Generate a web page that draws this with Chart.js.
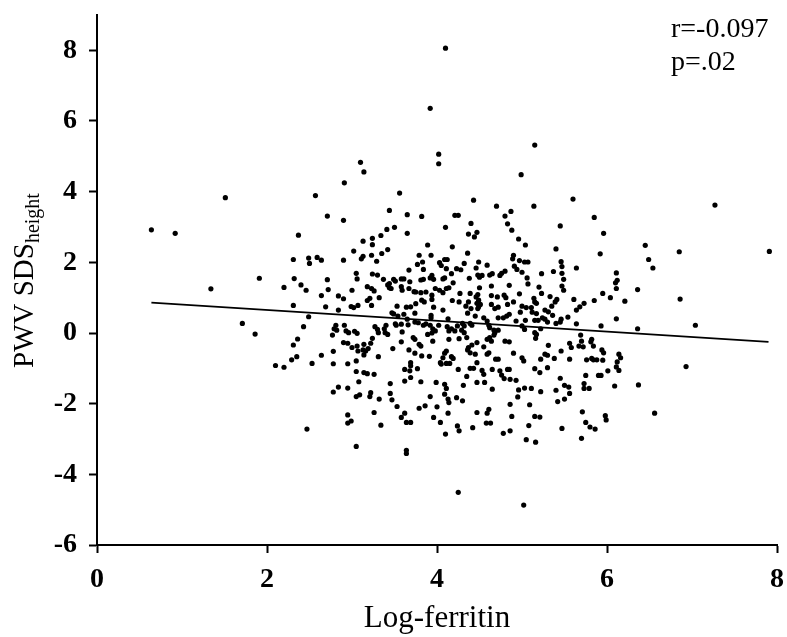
<!DOCTYPE html>
<html>
<head>
<meta charset="utf-8">
<script src="https://cdn.jsdelivr.net/npm/chart.js@4"></script>
<style>
  html, body { margin: 0; padding: 0; background: #fff; }
  #wrap { position: relative; width: 787px; height: 637px; }
</style>
</head>
<body>
<div id="wrap"><canvas id="c" width="787" height="637"></canvas></div>
<script>
// Log-ferritin (x) and PWV SDS-height (y), one entry per participant
const logFerritin = [
  1.51,0.64,0.92,2.37,2.31,1.91,2.32,2.20,2.40,1.34,2.31,1.71,1.86,2.36,2.31,2.29,2.35,2.10,2.20,2.43,2.47,
  4.10,3.92,5.15,4.02,4.02,3.10,3.14,4.99,2.91,2.57,3.56,4.43,5.60,7.27,4.70,5.14,2.71,2.90,3.44,3.65,3.82,4.21,4.25,4.80,4.87,5.85,4.40,4.83,4.88,5.45,5.96,4.10,3.50,3.41,3.65,3.34,3.24,3.13,4.37,4.44,4.47,4.96,
  3.24,3.42,3.02,3.35,3.89,4.18,3.13,3.11,3.23,3.29,2.90,2.49,2.59,2.64,2.50,3.79,3.93,3.83,3.77,4.03,4.05,4.09,4.12,3.84,3.67,4.11,4.23,3.05,3.24,3.30,3.06,2.71,3.37,3.49,3.51,3.58,3.61,3.68,3.44,3.81,3.84,3.94,3.92,3.96,4.07,4.09,4.17,4.19,
  2.46,2.72,3.18,3.23,3.26,3.00,3.42,3.44,3.46,3.58,3.59,3.67,3.73,3.75,3.81,3.87,3.94,3.98,4.03,4.11,4.14,4.07,4.18,2.64,2.84,2.90,3.21,3.18,3.32,3.07,2.99,3.02,3.23,2.69,2.84,3.53,3.64,3.69,3.75,3.82,3.85,3.94,3.96,4.07,
  3.47,3.49,3.61,3.54,3.74,3.93,3.93,4.13,2.49,2.81,2.79,2.82,2.77,2.91,2.93,2.96,3.03,3.06,3.27,3.30,3.31,3.40,3.38,3.51,3.52,3.58,3.65,3.66,3.74,3.78,3.84,3.87,3.92,3.95,3.98,3.89,4.02,4.12,4.14,4.17,4.21,4.24,
  5.04,5.40,5.92,4.36,4.90,4.89,4.97,5.03,5.07,5.46,5.47,4.49,4.32,4.59,4.28,4.46,4.91,4.94,5.64,5.00,5.37,5.47,5.23,4.48,4.53,4.50,4.62,4.65,4.74,4.76,4.80,5.06,5.49,4.38,6.12,6.10,5.07,4.50,4.64,4.85,5.20,5.47,5.49,6.11,
  4.27,4.39,4.48,4.46,4.64,4.71,4.79,4.81,4.97,5.23,5.14,5.15,5.33,5.41,5.39,5.95,6.04,5.61,5.85,5.73,5.68,5.64,4.26,4.37,4.49,4.47,4.51,4.49,4.48,4.34,4.40,4.36,4.45,4.64,4.72,4.68,4.83,4.90,5.00,5.05,5.11,5.17,5.35,5.27,5.31,
  4.98,5.12,5.17,5.36,4.72,4.78,4.82,4.85,4.55,4.59,4.93,5.04,5.15,5.19,5.24,5.27,5.30,5.46,5.45,5.54,5.40,5.64,5.93,6.11,4.30,4.32,4.29,4.32,4.39,4.41,4.61,4.62,4.67,4.68,4.72,5.00,5.03,5.15,5.22,5.69,
  6.45,6.85,7.91,6.49,6.54,6.11,6.36,6.21,6.86,6.36,7.04,
  2.90,2.95,3.06,3.00,3.14,3.22,3.24,3.07,3.13,3.16,3.19,3.14,2.78,2.64,2.78,2.53,2.95,3.05,3.31,3.48,3.58,3.72,3.74,3.79,3.81,3.67,3.74,3.82,3.91,3.95,4.14,4.11,4.09,4.07,4.17,4.19,4.04,4.05,4.11,4.15,4.25,
  3.69,3.69,3.68,3.77,3.62,3.69,3.62,3.81,3.99,3.05,3.14,3.18,3.26,3.08,2.95,2.84,2.78,3.45,3.45,3.47,3.22,3.21,3.05,3.09,3.32,3.53,3.26,2.95,2.99,2.95,3.62,3.58,3.64,3.69,3.34,3.79,3.86,3.92,4.00,4.09,4.11,4.09,4.13,4.14,4.23,3.96,4.04,4.13,3.39,3.42,3.59,3.94,4.26,
  4.67,4.35,5.17,5.16,5.70,5.67,5.72,5.82,5.81,5.84,5.94,5.96,5.56,5.58,5.46,5.31,4.59,4.62,4.64,4.80,4.85,4.47,4.41,4.37,4.36,4.39,4.45,4.55,4.61,4.59,4.90,5.00,5.02,4.69,4.72,5.27,5.30,5.22,5.38,5.56,5.76,5.82,5.84,5.88,5.95,6.12,
  4.47,4.39,4.43,4.53,4.55,4.65,4.74,4.76,4.83,4.85,5.15,5.21,5.30,4.79,4.86,4.93,4.35,4.47,4.56,4.31,4.65,4.96,5.03,5.11,5.22,4.95,5.45,5.50,5.55,5.40,5.56,5.73,5.73,5.79,5.75,5.90,5.93,6.01,6.11,6.14,6.09,
  4.30,4.86,5.09,5.42,5.50,4.61,4.59,4.47,5.71,4.88,5.15,5.21,5.98,5.99,4.63,5.08,
  6.14,6.16,6.93,6.37,6.56,
  3.05,3.64,3.64,4.10,4.24,4.26,4.25,
  4.42,4.58,4.78,4.86,5.05,5.16,5.47,5.70,5.75,5.80,5.86,5.02
];
const pwvSds = [
  3.83,2.92,2.82,2.77,2.08,1.55,1.54,1.29,1.36,1.25,0.78,0.27,-0.03,-0.17,-0.34,-0.76,-0.67,-0.92,-0.97,0.18,-2.72,
  8.06,6.36,5.32,5.06,4.79,4.83,4.56,4.48,4.25,3.89,3.96,3.76,3.79,3.62,3.59,3.59,3.31,3.19,3.47,3.35,3.30,3.33,3.33,3.31,3.44,3.27,3.10,3.09,2.91,3.03,2.82,2.99,2.99,2.93,2.82,2.76,2.68,2.60,2.80,2.72,2.85,2.66,
  2.50,2.36,2.32,2.25,2.49,2.44,2.17,2.10,2.20,2.03,2.06,2.12,2.14,2.06,1.97,2.20,2.20,2.01,1.94,1.99,1.91,2.08,2.08,1.80,1.78,1.82,1.82,1.69,1.67,1.64,1.53,1.51,1.52,1.52,1.47,1.53,1.53,1.45,1.40,1.50,1.52,1.63,1.56,1.52,1.53,1.56,1.68,1.42,
  1.21,1.23,1.31,1.26,1.19,1.21,1.36,1.28,1.26,1.31,1.21,1.26,1.17,1.16,1.14,1.16,1.07,1.26,1.21,1.26,1.28,1.14,0.92,1.06,1.05,0.97,0.98,0.92,1.00,0.78,0.75,0.72,0.78,0.74,0.65,0.76,0.73,0.74,0.83,0.93,0.88,0.95,0.73,0.65,
  0.57,0.54,0.53,0.48,0.56,0.50,0.43,0.40,0.46,0.22,0.12,0.08,-0.06,0.22,0.06,0.01,0.05,-0.01,0.18,0.10,0.01,0.22,0.12,0.26,0.22,0.25,0.39,0.23,0.31,0.29,0.22,0.26,0.22,0.12,0.06,-0.04,0.22,0.18,0.06,0.12,0.06,0.20,
  2.49,2.38,2.24,2.26,2.20,2.10,2.05,2.01,2.01,2.02,1.88,2.01,1.97,1.92,1.79,1.84,1.89,1.80,1.84,1.72,1.74,1.69,1.68,1.64,1.63,1.58,1.64,1.68,1.63,1.69,1.75,1.56,1.52,1.55,1.49,1.42,1.39,1.28,1.33,1.35,1.30,1.33,1.21,1.26,
  1.12,1.12,1.09,1.02,1.06,1.02,1.07,1.00,1.11,1.12,0.98,0.88,1.03,0.95,0.88,1.12,1.00,0.95,0.92,0.84,0.74,0.65,0.88,0.88,0.93,0.84,0.81,0.74,0.69,0.76,0.69,0.56,0.48,0.81,0.73,0.69,0.81,0.88,0.76,0.72,0.72,0.84,0.76,0.65,0.60,
  0.59,0.59,0.55,0.50,0.43,0.43,0.48,0.53,0.43,0.34,0.34,0.36,0.36,0.36,0.43,0.39,0.31,0.39,0.31,0.45,0.27,0.26,0.20,0.40,0.27,0.20,0.08,0.01,0.27,0.22,0.22,0.15,0.08,0.01,0.08,0.20,0.10,0.01,0.12,-0.06,
  2.48,2.30,2.31,2.08,1.84,1.70,1.23,0.90,0.96,0.12,0.22,
  -0.27,-0.29,-0.37,-0.41,-0.32,-0.29,-0.15,-0.51,-0.48,-0.51,-0.44,-0.62,-0.52,-0.63,-0.87,-0.86,-0.87,-0.79,-0.67,-0.44,-0.25,-0.13,-0.18,-0.32,-0.37,-0.48,-0.57,-0.65,-0.66,-0.23,-0.18,-0.51,-0.57,-0.70,-0.67,-0.72,-0.84,-0.88,-0.86,-0.86,-1.03,
  -0.84,-0.93,-1.07,-1.01,-1.03,-1.26,-1.36,-1.38,-1.40,-1.09,-1.12,-1.15,-1.17,-1.38,-1.56,-1.53,-1.67,-1.43,-1.71,-1.89,-1.69,-1.80,-1.80,-1.75,-1.87,-2.08,-2.25,-2.32,-2.49,-2.55,-2.27,-2.39,-2.53,-2.53,-2.61,-2.13,-2.06,-1.80,-2.09,-1.45,-1.57,-1.73,-1.87,-1.97,-1.83,-2.39,-2.53,-2.27,0.01,-0.04,0.03,0.00,-0.16,
  -0.06,-0.13,-0.04,-0.15,-0.23,-0.37,-0.39,-0.18,-0.25,-0.37,-0.48,-0.56,-0.29,-0.41,-0.51,-0.35,-0.18,-0.13,-0.23,-0.23,-0.25,-0.27,-0.34,-0.41,-0.48,-0.56,-0.60,-0.39,-0.56,-0.60,-0.57,-0.70,-0.79,-0.74,-0.74,-0.60,-0.63,-0.74,-0.72,-0.74,-0.76,-0.72,-0.76,-0.76,-0.77,-0.82,
  -0.84,-1.00,-1.00,-1.06,-1.17,-1.03,-1.07,-1.19,-1.03,-1.03,-1.01,-1.12,-0.98,-1.29,-1.31,-1.34,-1.23,-1.40,-1.40,-1.48,-1.59,-1.61,-1.56,-1.57,-1.66,-1.81,-1.28,-1.48,-1.53,-1.62,-1.71,-1.43,-1.57,-1.57,-1.20,-1.20,-1.20,-1.07,-0.96,-1.06,-1.50,
  -1.92,-2.02,-2.03,-1.94,-1.87,-2.16,-2.27,-2.25,-2.23,-2.36,-2.36,-2.38,-2.34,-2.46,-2.55,-2.62,
  -0.60,-0.70,-0.95,-1.47,-2.27,
  -3.21,-3.32,-3.41,-2.86,-2.63,-2.77,-4.51,
  -2.68,-2.55,-2.84,-2.77,-3.02,-3.09,-2.70,-2.98,-2.53,-2.66,-2.72,-4.87
];

// Least-squares fit line endpoints
const fitX = [0.64, 7.90];
const fitY = [0.86, -0.25];

const xTicks = [0, 2, 4, 6, 8];
const yTicks = [-6, -4, -2, 0, 2, 4, 6, 8];
const statLines = ['r=-0.097', 'p=.02'];
const xTitle = 'Log-ferritin';
const yTitleMain = 'PWV SDS';
const yTitleSub = 'height';

const SERIF = "'Liberation Serif', 'Times New Roman', serif";

const points = logFerritin.map((x, i) => ({ x, y: pwvSds[i] }));
const fitPoints = fitX.map((x, i) => ({ x, y: fitY[i] }));

// Rotated y-axis title with subscript, plus r / p annotation
const textPlugin = {
  id: 'extraText',
  afterDraw(chart) {
    const ctx = chart.ctx;
    ctx.save();
    ctx.fillStyle = '#000';
    ctx.translate(33, 368);
    ctx.rotate(-Math.PI / 2);
    ctx.textAlign = 'left';
    ctx.textBaseline = 'alphabetic';
    ctx.font = '29px ' + SERIF;
    ctx.fillText(yTitleMain, 0, 0);
    const w = ctx.measureText(yTitleMain).width;
    ctx.font = '20px ' + SERIF;
    ctx.fillText(yTitleSub, w, 6);
    ctx.restore();

    ctx.save();
    ctx.fillStyle = '#000';
    ctx.font = '28px ' + SERIF;
    ctx.textAlign = 'left';
    ctx.textBaseline = 'alphabetic';
    ctx.fillText(statLines[0], 671, 37);
    ctx.fillText(statLines[1], 671, 70);
    ctx.restore();
  }
};

new Chart(document.getElementById('c'), {
  type: 'scatter',
  data: {
    datasets: [
      {
        data: points,
        pointRadius: 2.6,
        pointBackgroundColor: '#000',
        pointBorderWidth: 0,
        showLine: false
      },
      {
        data: fitPoints,
        showLine: true,
        borderColor: '#000',
        borderWidth: 1.6,
        pointRadius: 0,
        fill: false
      }
    ]
  },
  options: {
    responsive: false,
    animation: false,
    devicePixelRatio: 1,
    layout: { padding: { top: 15, right: 10, left: 0, bottom: 0 } },
    plugins: { legend: { display: false }, tooltip: { enabled: false } },
    scales: {
      x: {
        type: 'linear',
        min: 0,
        max: 8,
        afterFit(scale) {
          scale.height = 92;
          scale.paddingLeft = 0;
          scale.paddingRight = 0;
        },
        afterBuildTicks(scale) { scale.ticks = xTicks.map(v => ({ value: v })); },
        border: { display: true, width: 2, color: '#000' },
        grid: { drawOnChartArea: false, drawTicks: true, tickLength: 8, tickWidth: 2, tickColor: '#000' },
        ticks: { color: '#000', padding: 10, font: { family: SERIF, size: 28, weight: 'bold' } },
        title: { display: true, text: xTitle, color: '#000', padding: { top: 0, bottom: 0 }, font: { family: SERIF, size: 31 } }
      },
      y: {
        type: 'linear',
        min: -6,
        max: 9,
        afterFit(scale) {
          scale.width = 97;
          scale.paddingTop = 0;
          scale.paddingBottom = 0;
        },
        afterBuildTicks(scale) { scale.ticks = yTicks.map(v => ({ value: v })); },
        border: { display: true, width: 2, color: '#000' },
        grid: { drawOnChartArea: false, drawTicks: true, tickLength: 8, tickWidth: 2, tickColor: '#000' },
        ticks: { color: '#000', padding: 12, font: { family: SERIF, size: 28, weight: 'bold' } }
      }
    }
  },
  plugins: [textPlugin]
});
</script>
</body>
</html>
